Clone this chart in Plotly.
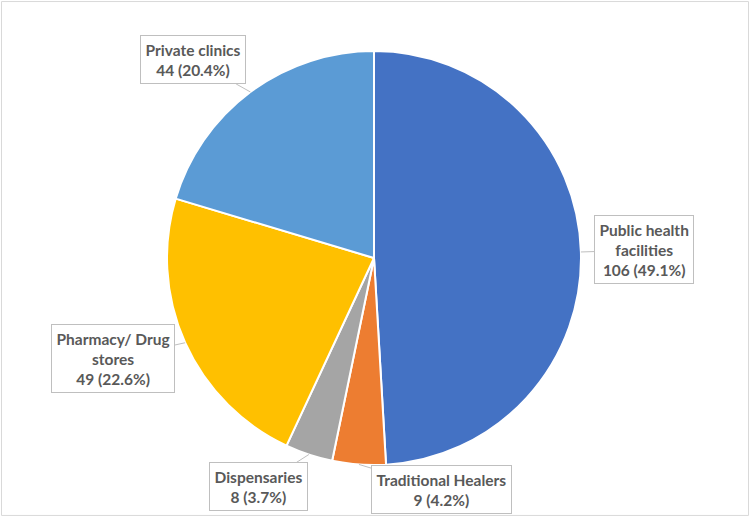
import math
import plotly.graph_objects as go

# Data
categories = ["Public health facilities", "Traditional Healers", "Dispensaries",
              "Pharmacy/ Drug stores", "Private clinics"]
counts = [106, 9, 8, 49, 44]
percents = [49.1, 4.2, 3.7, 22.6, 20.4]

colors = ["#4472C4", "#ED7D31", "#A5A5A5", "#FFC000", "#5B9BD5"]

# label text as it appears (line breaks inside the callouts)
label_names = ["Public health<br>facilities", "Traditional Healers", "Dispensaries",
               "Pharmacy/ Drug<br>stores", "Private clinics"]
# pixel offset of each callout box from the slice edge
offsets = [(63, -2), (83, 25), (-50, 32), (-72, 16), (-57, -32)]

W, H = 750, 517
cx, cy, r = 374, 259, 207  # pie centre (from bottom) and radius in px

fig = go.Figure()
fig.add_trace(go.Pie(
    labels=categories,
    values=counts,
    sort=False,
    direction="clockwise",
    rotation=0,
    textinfo="none",
    hoverinfo="label+value",
    marker=dict(colors=colors, line=dict(color="white", width=2)),
    domain=dict(x=[(cx - r) / W, (cx + r) / W], y=[(cy - r) / H, (cy + r) / H]),
    showlegend=False,
))

# callout labels pointing to the middle of each slice
total = sum(counts)
start = 0
annotations = []
for name, n, p, (ox, oy) in zip(label_names, counts, percents, offsets):
    mid = (start + n / 2) / total * 2 * math.pi
    start += n
    tx = (cx + r * math.sin(mid)) / W
    ty = (cy + r * math.cos(mid)) / H
    annotations.append(dict(
        x=tx, y=ty, xref="paper", yref="paper",
        ax=ox, ay=oy, axref="pixel", ayref="pixel",
        text=f"{name}<br>{n} ({p}%)",
        showarrow=True, arrowhead=0, arrowwidth=1, arrowcolor="#BFBFBF", standoff=0,
        font=dict(family="Lato", size=15.5, color="#595959", weight="bold"),
        bgcolor="white", bordercolor="#BFBFBF", borderwidth=1, borderpad=4.5,
        align="center",
    ))

fig.update_layout(
    width=W, height=H,
    margin=dict(l=0, r=0, t=0, b=0),
    paper_bgcolor="white",
    annotations=annotations,
    shapes=[dict(type="rect", xref="paper", yref="paper", x0=0.002, y0=0.003, x1=0.998, y1=0.997,
                 line=dict(color="#D9D9D9", width=1))],
)

fig.write_html("out.html", config={"displayModeBar": False},
               post_script="document.body.style.margin='0';")
